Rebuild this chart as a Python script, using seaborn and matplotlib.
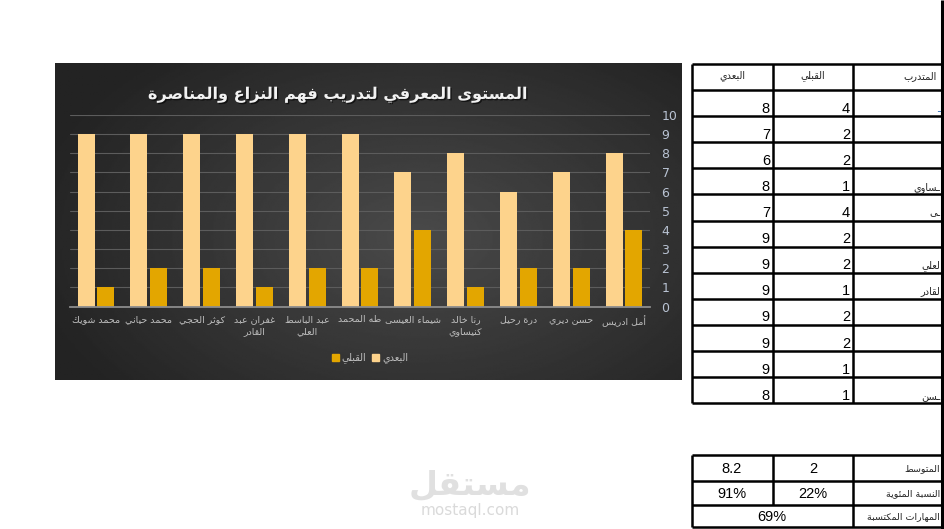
import matplotlib.pyplot as plt
import numpy as np
import pandas as pd
import seaborn as sns
from matplotlib.patches import Patch
import matplotlib.patheffects as pe

W, H = 945, 529

# Data (chart uses the first 11 trainees, the sheet has 12)
names = ["أمل ادريس", "حسن ديري", "درة رحيل", "رنا خالد\nكنيساوي", "شيماء العيسى", "طه المحمد",
         "عبد الباسط\nالعلي", "غفران عبد\nالقادر", "كوثر الحجي", "محمد حياني", "محمد شويك"]
before = [4, 2, 2, 1, 4, 2, 2, 1, 2, 2, 1, 1]
after = [8, 7, 6, 8, 7, 9, 9, 9, 9, 9, 9, 8]
# only a sliver of each name cell shows at the sheet edge
name_tails = ["ـ", "", "", "ـساوي", "ـى", "", "لعلي", "لقادر", "", "", "", "ـسن"]
summary_labels = ["المتوسط", "النسبة المئوية", "المهارات المكتسبة"]
summary_after = ["8.2", "91%"]
summary_before = ["2", "22%"]
gained = "69%"
series = ["البعدي", "القبلي"]
title = "المستوى المعرفي لتدريب فهم النزاع والمناصرة"

# --- minimal arabic shaping (matplotlib has no bidi / joining) ---
_forms = {}
for ch, start, n in [('ء', 0xFE80, 1), ('آ', 0xFE81, 2), ('أ', 0xFE83, 2), ('ؤ', 0xFE85, 2),
                     ('إ', 0xFE87, 2), ('ئ', 0xFE89, 4), ('ا', 0xFE8D, 2), ('ب', 0xFE8F, 4),
                     ('ة', 0xFE93, 2), ('ت', 0xFE95, 4), ('ث', 0xFE99, 4), ('ج', 0xFE9D, 4),
                     ('ح', 0xFEA1, 4), ('خ', 0xFEA5, 4), ('د', 0xFEA9, 2), ('ذ', 0xFEAB, 2),
                     ('ر', 0xFEAD, 2), ('ز', 0xFEAF, 2), ('س', 0xFEB1, 4), ('ش', 0xFEB5, 4),
                     ('ص', 0xFEB9, 4), ('ض', 0xFEBD, 4), ('ط', 0xFEC1, 4), ('ظ', 0xFEC5, 4),
                     ('ع', 0xFEC9, 4), ('غ', 0xFECD, 4), ('ف', 0xFED1, 4), ('ق', 0xFED5, 4),
                     ('ك', 0xFED9, 4), ('ل', 0xFEDD, 4), ('م', 0xFEE1, 4), ('ن', 0xFEE5, 4),
                     ('ه', 0xFEE9, 4), ('و', 0xFEED, 2), ('ى', 0xFEEF, 2), ('ي', 0xFEF1, 4)]:
    _forms[ch] = [chr(start + k) for k in range(n)]
_lam_alef = {'آ': 0xFEF5, 'أ': 0xFEF7, 'إ': 0xFEF9, 'ا': 0xFEFB}


def _dual(c):
    return c == 'ـ' or (c in _forms and len(_forms[c]) == 4)


def ar(text):
    lines = []
    for line in text.split('\n'):
        out = []
        i = 0
        while i < len(line):
            c = line[i]
            joined = i > 0 and _dual(line[i - 1])
            nxt = line[i + 1] if i + 1 < len(line) else ''
            if c == 'ل' and nxt in _lam_alef:
                out.append(chr(_lam_alef[nxt] + (1 if joined else 0)))
                i += 2
                continue
            if c in _forms:
                f = _forms[c]
                to_next = len(f) == 4 and ((nxt in _forms and nxt != 'ء') or nxt == 'ـ')
                if joined and to_next:
                    out.append(f[3])
                elif joined:
                    out.append(f[1] if len(f) > 1 else f[0])
                elif to_next:
                    out.append(f[2])
                else:
                    out.append(f[0])
            else:
                out.append(c)
            i += 1
        lines.append(''.join(reversed(out)))
    return '\n'.join(lines)


def fx(px):
    return px / W


def fy(py):
    return 1 - py / H


sns.set_style("white")
plt.rcParams['font.family'] = ['DejaVu Sans']

fig = plt.figure(figsize=(W / 100, H / 100), dpi=100, facecolor='white')

# dark panel with soft radial gradient
bg = fig.add_axes([fx(55), fy(380), fx(627), 317 / H])
yy, xx = np.mgrid[0:1:200j, 0:1:400j]
r = np.sqrt(((xx - 0.58) * 1.2) ** 2 + (yy - 0.55) ** 2)
shade = 0.29 - 0.15 * np.clip(r / 0.75, 0, 1)
bg.imshow(shade, cmap='gray', vmin=0, vmax=1, aspect='auto', extent=(0, 1, 0, 1))
bg.set_axis_off()

# bar chart
n = len(names)
df = pd.DataFrame({
    'name': names * 2,
    'value': after[:n] + before[:n],
    'series': [series[0]] * n + [series[1]] * n,
})
order = names[::-1]
colors = {series[0]: '#FDD38C', series[1]: '#E3A600'}

ax = fig.add_axes([fx(69.6), fy(306.5), fx(580.8), 191.5 / H])
sns.barplot(data=df, x='name', y='value', hue='series', order=order, hue_order=series,
            palette=colors, width=0.755, gap=0.15, linewidth=0, saturation=1,
            legend=False, ax=ax)
ax.set_facecolor('none')
ax.set_xlim(-0.5, n - 0.5)
ax.set_ylim(0, 10)
ax.set_yticks(range(0, 11))
ax.yaxis.tick_right()
ax.tick_params(axis='y', length=0, pad=8, labelsize=9, labelcolor='#B9C3D3')
ax.set_xticks(range(n))
ax.set_xticklabels([ar(s) for s in order], fontsize=6.8, color='#BFBFBF', linespacing=1.5)
ax.tick_params(axis='x', length=0, pad=6)
ax.set_xlabel('')
ax.set_ylabel('')
ax.grid(axis='y', color='#5C5C5C', linewidth=0.8)
ax.set_axisbelow(True)
for s in ['top', 'left', 'right']:
    ax.spines[s].set_visible(False)
ax.spines['bottom'].set_color('#8C8C8C')
ax.spines['bottom'].set_linewidth(1.3)

fig.text(fx(338), fy(95), ar(title), ha='center', va='center', fontsize=11.6,
         fontweight='bold', color='#F2F2F2',
         path_effects=[pe.withSimplePatchShadow(offset=(1, -1), shadow_rgbFace='black', alpha=0.6)])

handles = [Patch(color=colors[series[1]]), Patch(color=colors[series[0]])]
fig.legend(handles, [ar(series[1]), ar(series[0])], loc='center',
           bbox_to_anchor=(fx(370), fy(358)), ncol=2, frameon=False, fontsize=7,
           labelcolor='#BFBFBF', handlelength=0.7, handleheight=0.7,
           handletextpad=0.3, columnspacing=0.6)

# spreadsheet table on the right (pixel coordinates)
tab = fig.add_axes([fx(692), 0, fx(250), 1])
tab.set_xlim(692, 942)
tab.set_ylim(H, 0)
tab.set_axis_off()
tab.patch.set_visible(False)

lw = 1.8
top, head_h, row_h = 64, 26, 26.1
rows = len(after)
bottom = top + head_h + rows * row_h
ys = [top, top + head_h] + [top + head_h + (k + 1) * row_h for k in range(rows)]
tab.hlines(ys, 692, 942, color='black', linewidth=lw, clip_on=False)
tab.vlines([692, 773, 853], top, bottom, color='black', linewidth=lw, clip_on=False)
tab.vlines([942], 0, H, color='black', linewidth=2.2, clip_on=False)

tab.text(732, top + 12, ar(series[0]), ha='center', va='center', fontsize=7, color='#222222')
tab.text(813, top + 12, ar(series[1]), ha='center', va='center', fontsize=7, color='#222222')
tab.text(920, top + 12, ar("المتدرب"), ha='center', va='center', fontsize=7, color='#222222')

for k in range(rows):
    base = top + head_h + (k + 1) * row_h - 3.5
    tab.text(770, base, str(after[k]), ha='right', va='baseline', fontsize=10.5,
             family='Liberation Sans', color='black')
    tab.text(850, base, str(before[k]), ha='right', va='baseline', fontsize=10.5,
             family='Liberation Sans', color='black')
    if name_tails[k]:
        tab.text(940, base - 1, ar(name_tails[k]), ha='right', va='baseline', fontsize=7,
                 color='#2F6EBA' if k == 0 else '#222222')

# summary block
sy = [455, 481, 505, 527]
tab.hlines(sy, 692, 942, color='black', linewidth=lw, clip_on=False)
tab.vlines([692], sy[0], sy[-1], color='black', linewidth=lw, clip_on=False)
tab.vlines([773], sy[0], sy[2], color='black', linewidth=lw, clip_on=False)
tab.vlines([853], sy[0], sy[-1], color='black', linewidth=lw, clip_on=False)
for k in range(2):
    mid = (sy[k] + sy[k + 1]) / 2 + 1
    tab.text(732, mid, summary_after[k], ha='center', va='center', fontsize=10.5,
             family='Liberation Sans', color='black')
    tab.text(813, mid, summary_before[k], ha='center', va='center', fontsize=10.5,
             family='Liberation Sans', color='black')
tab.text(772, (sy[2] + sy[3]) / 2 + 1, gained, ha='center', va='center', fontsize=10.5,
         family='Liberation Sans', color='black')
for k, lab in enumerate(summary_labels):
    tab.text(940, (sy[k] + sy[k + 1]) / 2 + 1, ar(lab), ha='right', va='center',
             fontsize=6.8, color='#222222')

# watermark of the screenshot source
fig.text(fx(470), fy(485), ar("مستقل"), ha='center', va='center', fontsize=24,
         fontweight='bold', color='#E0E0E0')
fig.text(fx(470), fy(510), "mostaql.com", ha='center', va='center', fontsize=11,
         color='#DADADA')

fig.savefig('out.png', dpi=100, facecolor='white')
